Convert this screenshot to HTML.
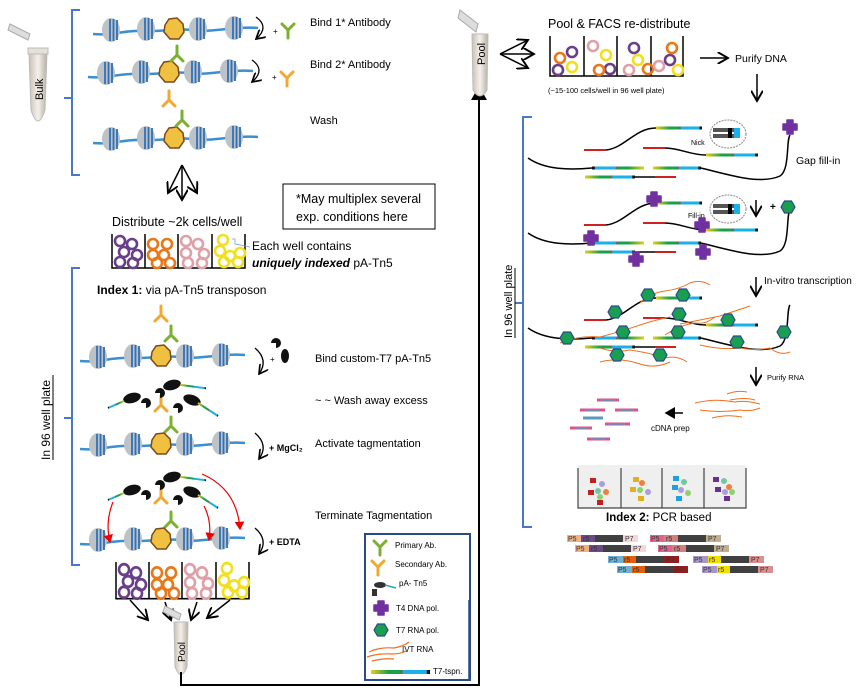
<!DOCTYPE html>
<html><head><meta charset="utf-8"><style>
html,body{margin:0;padding:0;background:#fff;}
svg{display:block;font-family:"Liberation Sans",sans-serif;}
</style></head><body>
<svg width="868" height="693" viewBox="0 0 868 693" xmlns="http://www.w3.org/2000/svg">
<defs>
<linearGradient id="t7" x1="0" x2="1" y1="0" y2="0">
<stop offset="0" stop-color="#e8cf1a"/><stop offset="0.3" stop-color="#1aa048"/><stop offset="0.5" stop-color="#1aa048"/><stop offset="0.52" stop-color="#d03030"/><stop offset="0.55" stop-color="#1ab0e8"/><stop offset="0.94" stop-color="#1ab0e8"/><stop offset="0.95" stop-color="#111"/><stop offset="1" stop-color="#111"/>
</linearGradient>
<linearGradient id="t7r" x1="1" x2="0" y1="0" y2="0">
<stop offset="0" stop-color="#e8cf1a"/><stop offset="0.3" stop-color="#1aa048"/><stop offset="0.5" stop-color="#1aa048"/><stop offset="0.52" stop-color="#d03030"/><stop offset="0.55" stop-color="#1ab0e8"/><stop offset="0.94" stop-color="#1ab0e8"/><stop offset="0.95" stop-color="#111"/><stop offset="1" stop-color="#111"/>
</linearGradient>
<linearGradient id="tube" x1="0" x2="1"><stop offset="0" stop-color="#c9c0b5"/><stop offset="0.5" stop-color="#f4f0ea"/><stop offset="1" stop-color="#b8aea2"/></linearGradient>
<g id="nuc"><ellipse cx="0" cy="0" rx="9" ry="12" fill="#bcc2c6"/><path d="M-1,-11V11M2.5,-11V11M6,-10V10" stroke="#2f70b8" stroke-width="1.8"/></g>
<g id="blob"><path d="M-9,-4 L-5,-10 L3,-11 L9,-5 L10,3 L5,10 L-4,10 L-10,3Z" fill="#f0c040" stroke="#7a4a1a" stroke-width="1.5"/></g>
<g id="dna"><path d="M0,6 C20,8 30,2 50,3 C70,4 80,0 100,2 C120,5 140,-2 165,0" fill="none" stroke="#3a8fd0" stroke-width="2.5"/>
<use href="#nuc" x="18" y="2"/><use href="#nuc" x="53" y="1"/><use href="#blob" x="81" y="1"/><use href="#nuc" x="105" y="1"/><use href="#nuc" x="141" y="0"/></g>
<g id="abg"><path d="M0,-16V-7M0,-7L-6,-1M0,-7L6,-1" stroke="#7cb030" stroke-width="3" fill="none" stroke-linecap="round"/></g>
<g id="abo"><path d="M0,-16V-7M0,-7L-6,-1M0,-7L6,-1" stroke="#f0a830" stroke-width="3" fill="none" stroke-linecap="round"/></g>
<g id="abgL"><path d="M0,0V-8M0,-8L-6,-14M0,-8L6,-14" stroke="#7cb030" stroke-width="3" fill="none" stroke-linecap="round"/></g>
<g id="aboL"><path d="M0,0V-8M0,-8L-6,-14M0,-8L6,-14" stroke="#f0a830" stroke-width="3" fill="none" stroke-linecap="round"/></g>
<g id="tn5"><ellipse cx="0" cy="0" rx="9" ry="5" fill="#111"/><line x1="8" y1="2" x2="32" y2="12" stroke="url(#t7)" stroke-width="2"/></g>
<g id="pac"><path d="M0,0 m-5,0 a5,5 0 1 1 5,5 l0,-5z" fill="#111"/></g>
<g id="ring"><circle r="5" fill="none" stroke-width="2.6"/></g>
<g id="hex"><polygon points="-7,0 -3.5,-6 3.5,-6 7,0 3.5,6 -3.5,6" fill="#18a050" stroke="#2a4a8a" stroke-width="1.2"/></g>
<g id="t4"><path d="M-3,-7h6v4h4v6h-4v4h-6v-4h-4v-6h4z" fill="#7030a0" stroke="#7030a0" stroke-linejoin="round" stroke-width="1.5"/></g>
<marker id="ah" markerWidth="8" markerHeight="8" refX="7" refY="4" orient="auto"><path d="M0,0L7,4L0,8" fill="none" stroke="#000" stroke-width="1.3"/></marker>
<marker id="ahr" markerWidth="8" markerHeight="8" refX="6" refY="4" orient="auto"><path d="M0,0L7,4L0,8z" fill="#e00"/></marker>
<marker id="ahf" markerWidth="8" markerHeight="8" refX="6" refY="4" orient="auto"><path d="M0,0L7,4L0,8z" fill="#000"/></marker>
</defs>

<!-- Bulk tube -->
<g transform="translate(38,40)">
<path d="M-10,0 L-30,-10 L-28,-16 L-8,-6 Z" fill="#ddd" stroke="#aaa"/>
<path d="M-9,12 L9,12 L7,70 Q0,92 -7,70 Z" fill="url(#tube)" stroke="#bbb"/>
<rect x="-10" y="8" width="20" height="6" fill="#e5e0d8" stroke="#bbb"/>
<text transform="translate(5,60) rotate(-90)" font-size="11">Bulk</text>
</g>
<path d="M80,10 H72 V175 H80 M72,98 H64" fill="none" stroke="#4a78c8" stroke-width="2"/>
<use href="#dna" x="93" y="28"/>
<use href="#dna" x="88" y="71"/><use href="#abg" x="177" y="62"/>
<use href="#dna" x="93" y="137"/><use href="#abg" x="182" y="127"/><use href="#abo" x="169" y="107"/>
<path d="M256,17 q14,10 0,22" fill="none" stroke="#000" stroke-width="1.3" marker-end="url(#ah)"/>
<text x="273" y="34" font-size="8">+</text><use href="#abgL" x="288" y="38"/>
<path d="M252,60 q14,10 0,22" fill="none" stroke="#000" stroke-width="1.3" marker-end="url(#ah)"/>
<text x="272" y="80" font-size="8">+</text><use href="#aboL" x="287" y="86"/>
<text x="310" y="26" font-size="11">Bind 1* Antibody</text>
<text x="310" y="68" font-size="11">Bind 2* Antibody</text>
<text x="310" y="124" font-size="11">Wash</text>
<line x1="182" y1="165" x2="168" y2="193" stroke="#000" stroke-width="1.5" marker-end="url(#ah)"/>
<line x1="182" y1="165" x2="182" y2="200" stroke="#000" stroke-width="1.5" marker-end="url(#ah)"/>
<line x1="182" y1="165" x2="197" y2="193" stroke="#000" stroke-width="1.5" marker-end="url(#ah)"/>
<rect x="283" y="184" width="152" height="45" fill="#fff" stroke="#000"/>
<text x="296" y="203" font-size="12.5">*May multiplex several</text>
<text x="296" y="221" font-size="12.5">exp. conditions here</text>
<text x="112" y="226" font-size="12.5">Distribute ~2k cells/well</text>
<g transform="translate(112,234)">
<path d="M0,0V34H133V0M33,0V34M66,0V34M100,0V34" fill="none" stroke="#000" stroke-width="1.5"/>
<g stroke="#6a3f8a"><use href="#ring" x="8" y="7"/><use href="#ring" x="20" y="10"/><use href="#ring" x="12" y="18"/><use href="#ring" x="25" y="21"/><use href="#ring" x="8" y="28"/><use href="#ring" x="21" y="29"/></g>
<g stroke="#e87818"><use href="#ring" x="41" y="10"/><use href="#ring" x="55" y="10"/><use href="#ring" x="41" y="21"/><use href="#ring" x="52" y="21"/><use href="#ring" x="45" y="29"/><use href="#ring" x="58" y="29"/></g>
<g stroke="#e0a0a8"><use href="#ring" x="74" y="7"/><use href="#ring" x="86" y="10"/><use href="#ring" x="74" y="19"/><use href="#ring" x="92" y="20"/><use href="#ring" x="76" y="29"/><use href="#ring" x="90" y="29"/></g>
<g stroke="#f0e020"><use href="#ring" x="111" y="6"/><use href="#ring" x="108" y="17"/><use href="#ring" x="118" y="22"/><use href="#ring" x="128" y="19"/><use href="#ring" x="112" y="28"/><use href="#ring" x="126" y="28"/></g>
</g>
<path d="M232,239 H235 V244 L250,247" fill="none" stroke="#7aa0d0" stroke-width="0.8"/>
<text x="252" y="250" font-size="12">Each well contains</text>
<text x="252" y="267" font-size="12"><tspan font-weight="bold" font-style="italic">uniquely indexed</tspan> pA-Tn5</text>
<path d="M80,268 H72 V565 H80 M72,418 H64" fill="none" stroke="#4a78c8" stroke-width="2"/>
<text transform="translate(50,460) rotate(-90)" font-size="12">In 96 well plate</text>
<line x1="53" y1="375" x2="53" y2="460" stroke="#000"/>
<text x="97" y="294" font-size="12"><tspan font-weight="bold">Index 1:</tspan>  via pA-Tn5 transposon</text>
<use href="#abo" x="161" y="322"/><use href="#abg" x="171" y="342"/>
<use href="#dna" x="80" y="355"/>
<path d="M255,348 q14,12 4,26" fill="none" stroke="#000" stroke-width="1.3" marker-end="url(#ah)"/>
<text x="270" y="362" font-size="8">+</text>
<use href="#pac" x="276" y="343"/><ellipse cx="285" cy="356" rx="4" ry="7" fill="#111"/><line x1="283" y1="362" x2="283" y2="378" stroke="url(#t7)" stroke-width="2"/>
<text x="315" y="362" font-size="11">Bind custom-T7 pA-Tn5</text>
<g id="tnc">
<use href="#abo" x="161" y="412"/>
<use href="#tn5" x="172" y="385" transform="rotate(-15 172 385)"/><use href="#pac" x="160" y="393"/>
<ellipse cx="132" cy="398" rx="9" ry="5" fill="#111" transform="rotate(-15 132 398)"/><line x1="124" y1="401" x2="108" y2="408" stroke="url(#t7r)" stroke-width="2"/><use href="#pac" x="146" y="403"/>
<ellipse cx="192" cy="400" rx="9" ry="5" fill="#111" transform="rotate(20 192 400)"/><line x1="198" y1="403" x2="218" y2="416" stroke="url(#t7)" stroke-width="2"/><use href="#pac" x="178" y="408"/>
</g>
<use href="#abg" x="171" y="433"/>
<use href="#dna" x="80" y="443"/>
<text x="315" y="404" font-size="11">~ ~ Wash away excess</text>
<path d="M255,433 q14,12 4,26" fill="none" stroke="#000" stroke-width="1.3" marker-end="url(#ah)"/>
<text x="269" y="451" font-size="9" font-weight="bold">+ MgCl₂</text>
<text x="315" y="447" font-size="11">Activate tagmentation</text>
<use href="#tnc" x="0" y="92"/>
<use href="#abg" x="171" y="528"/>
<use href="#dna" x="80" y="538"/>
<path d="M113,502 q-8,20 -3,40" fill="none" stroke="#e00" stroke-width="1.2" marker-end="url(#ahr)"/>
<path d="M204,506 q8,15 5,34" fill="none" stroke="#e00" stroke-width="1.2" marker-end="url(#ahr)"/>
<path d="M202,474 q35,15 38,55" fill="none" stroke="#e00" stroke-width="1.2" marker-end="url(#ahr)"/>
<path d="M255,528 q14,12 4,26" fill="none" stroke="#000" stroke-width="1.3" marker-end="url(#ah)"/>
<text x="269" y="545" font-size="9" font-weight="bold">+ EDTA</text>
<text x="315" y="519" font-size="11">Terminate Tagmentation</text>
<g transform="translate(116,562) scale(1,1.08)">
<path d="M0,0V34H133V0M33,0V34M66,0V34M100,0V34" fill="none" stroke="#000" stroke-width="1.5"/>
<g stroke="#6a3f8a"><use href="#ring" x="8" y="7"/><use href="#ring" x="20" y="10"/><use href="#ring" x="12" y="18"/><use href="#ring" x="25" y="21"/><use href="#ring" x="8" y="28"/><use href="#ring" x="21" y="29"/></g>
<g stroke="#e87818"><use href="#ring" x="41" y="10"/><use href="#ring" x="55" y="10"/><use href="#ring" x="41" y="21"/><use href="#ring" x="52" y="21"/><use href="#ring" x="45" y="29"/><use href="#ring" x="58" y="29"/></g>
<g stroke="#e0a0a8"><use href="#ring" x="74" y="7"/><use href="#ring" x="86" y="10"/><use href="#ring" x="74" y="19"/><use href="#ring" x="92" y="20"/><use href="#ring" x="76" y="29"/><use href="#ring" x="90" y="29"/></g>
<g stroke="#f0e020"><use href="#ring" x="111" y="6"/><use href="#ring" x="108" y="17"/><use href="#ring" x="118" y="22"/><use href="#ring" x="128" y="19"/><use href="#ring" x="112" y="28"/><use href="#ring" x="126" y="28"/></g>
</g>
<line x1="130" y1="600" x2="148" y2="620" stroke="#000" stroke-width="1.5" marker-end="url(#ah)"/>
<line x1="165" y1="602" x2="171" y2="620" stroke="#000" stroke-width="1.5" marker-end="url(#ah)"/>
<line x1="197" y1="602" x2="191" y2="620" stroke="#000" stroke-width="1.5" marker-end="url(#ah)"/>
<line x1="230" y1="600" x2="207" y2="618" stroke="#000" stroke-width="1.5" marker-end="url(#ah)"/>
<g transform="translate(181,612)">
<path d="M-2,8 L-18,0 L-16,-6 L0,2 Z" fill="#ddd" stroke="#aaa"/>
<path d="M-7,10 L7,10 L6,55 Q0,70 -6,55 Z" fill="url(#tube)" stroke="#bbb"/>
<text transform="translate(4,50) rotate(-90)" font-size="10">Pool</text>
</g>
<path d="M181,672 V685 H479 V88" fill="none" stroke="#000" stroke-width="2" marker-end="url(#ahf)"/>
<rect x="365" y="534" width="105" height="146" fill="#fff" stroke="#2a4a8a" stroke-width="2"/>
<line x1="469" y1="600" x2="469" y2="680" stroke="#2a4a8a" stroke-width="1.5"/>
<use href="#abgL" x="380" y="555"/><text x="395" y="548" font-size="8">Primary Ab.</text>
<use href="#aboL" x="378" y="575"/><text x="395" y="567" font-size="8">Secondary Ab.</text>
<ellipse cx="380" cy="585" rx="6" ry="3" fill="#333"/><line x1="385" y1="585" x2="396" y2="588" stroke="#2ab" stroke-width="1.5"/><rect x="372" y="589" width="5" height="7" fill="#333"/>
<text x="399" y="586" font-size="8">pA- Tn5</text>
<use href="#t4" x="381" y="608"/><text x="396" y="611" font-size="8">T4 DNA pol.</text>
<use href="#hex" x="381" y="630"/><text x="396" y="633" font-size="8">T7 RNA pol.</text>
<path d="M369,652 q10,-5 25,-4 q10,-2 15,-6 M367,657 q12,-4 25,-3 q8,0 14,-3 M372,661 q12,-3 22,-2" fill="none" stroke="#f07020" stroke-width="1.2"/>
<text x="402" y="652" font-size="8">IVT RNA</text>
<rect x="371" y="670" width="59" height="4" fill="url(#t7)"/>
<text x="433" y="674" font-size="8">T7-tspn.</text>

<g transform="translate(480,20)">
<path d="M-4,12 L-22,-2 L-20,-10 L-2,4 Z" fill="#ddd" stroke="#aaa"/>
<path d="M-8,14 L8,14 L7,70 Q0,82 -7,70 Z" fill="url(#tube)" stroke="#bbb"/>
<text transform="translate(5,45) rotate(-90)" font-size="11">Pool</text>
</g>
<line x1="500" y1="54" x2="528" y2="40" stroke="#000" stroke-width="1.5" marker-end="url(#ah)"/>
<line x1="500" y1="54" x2="534" y2="54" stroke="#000" stroke-width="1.5" marker-end="url(#ah)"/>
<line x1="500" y1="54" x2="528" y2="68" stroke="#000" stroke-width="1.5" marker-end="url(#ah)"/>
<text x="548" y="28" font-size="12.5">Pool &amp; FACS re-distribute</text>
<g transform="translate(550,36)">
<path d="M0,0V40H133V0M34,0V40M67,0V40M101,0V40" fill="none" stroke="#000" stroke-width="1.5"/>
<g stroke="#6a3f8a"><use href="#ring" x="22" y="16"/><use href="#ring" x="8" y="34"/><use href="#ring" x="60" y="33"/><use href="#ring" x="84" y="12"/><use href="#ring" x="120" y="24"/></g>
<g stroke="#e87818"><use href="#ring" x="10" y="22"/><use href="#ring" x="49" y="34"/><use href="#ring" x="98" y="33"/><use href="#ring" x="122" y="12"/></g>
<g stroke="#f0e020"><use href="#ring" x="22" y="31"/><use href="#ring" x="56" y="19"/><use href="#ring" x="88" y="24"/><use href="#ring" x="128" y="34"/></g>
<g stroke="#e0a0a8"><use href="#ring" x="43" y="10"/><use href="#ring" x="79" y="34"/><use href="#ring" x="109" y="30"/></g>
</g>
<text x="548" y="93" font-size="7.5">(~15-100 cells/well in 96 well plate)</text>
<path d="M700,58 H728" stroke="#000" stroke-width="1.5" marker-end="url(#ah)"/>
<text x="735" y="62" font-size="10.5">Purify DNA</text>
<path d="M757,74 V101" stroke="#000" stroke-width="1.5" marker-end="url(#ah)"/>
<path d="M532,117 H523 V527 H532 M523,303 H515" fill="none" stroke="#4a78c8" stroke-width="2"/>
<text transform="translate(512,338) rotate(-90)" font-size="11">In 96 well plate</text>
<line x1="515" y1="268" x2="515" y2="338" stroke="#000"/>

<g id="frag">
<path d="M528,158 C545,170 570,170 592,168" fill="none" stroke="#000" stroke-width="1.5"/>
<rect x="592" y="166.5" width="52" height="3" fill="url(#t7r)"/>
<rect x="653" y="166.5" width="48" height="3" fill="url(#t7)"/>
<path d="M701,168 C730,175 760,185 780,176 C790,170 786,140 790,135" fill="none" stroke="#000" stroke-width="1.5"/>
<rect x="585" y="175.5" width="50" height="3" fill="url(#t7)"/>
<path d="M635,177 H655" stroke="#000" stroke-width="1.5"/><path d="M655,177 H676" stroke="#d02020" stroke-width="2"/>
<path d="M584,150 H606" stroke="#d02020" stroke-width="2"/>
<path d="M606,150 C625,148 635,128 656,128" fill="none" stroke="#000" stroke-width="1.5"/>
<rect x="656" y="126.5" width="46" height="3" fill="url(#t7)"/>
<path d="M643,148 H665" stroke="#d02020" stroke-width="2"/>
<path d="M665,148 C680,148 690,155 706,155" fill="none" stroke="#000" stroke-width="1.5"/>
<rect x="706" y="153.5" width="52" height="3" fill="url(#t7)"/>
</g>
<ellipse cx="728" cy="134" rx="18" ry="14" fill="#fff" stroke="#888" stroke-dasharray="2,1"/>
<rect x="713" y="128" width="26" height="4" fill="#555"/><rect x="713" y="134" width="26" height="4" fill="#555"/><rect x="728" y="128" width="4" height="10" fill="#000"/><rect x="734" y="128" width="6" height="10" fill="#1ab0e8"/>
<text x="691" y="145" font-size="7">Nick</text>
<use href="#t4" x="790" y="127"/>
<text x="796" y="164" font-size="10.5">Gap fill-in</text>
<use href="#frag" x="0" y="75"/>
<ellipse cx="728" cy="209" rx="18" ry="14" fill="#fff" stroke="#888" stroke-dasharray="2,1"/>
<rect x="713" y="204" width="26" height="4" fill="#555"/><rect x="713" y="210" width="26" height="4" fill="#555"/><rect x="728" y="204" width="4" height="10" fill="#000"/><rect x="734" y="204" width="6" height="10" fill="#1ab0e8"/>
<text x="688" y="218" font-size="7">Fill-in</text>
<use href="#t4" x="654" y="199"/><use href="#t4" x="702" y="225"/><use href="#t4" x="591" y="238"/><use href="#t4" x="703" y="252"/><use href="#t4" x="636" y="259"/>
<path d="M756,200 V216" stroke="#000" stroke-width="1.5" marker-end="url(#ah)"/>
<text x="770" y="210" font-size="10" font-weight="bold">+</text><use href="#hex" x="788" y="207"/>
<path d="M756,277 V296" stroke="#000" stroke-width="1.5" marker-end="url(#ah)"/>
<text x="764" y="284" font-size="10">In-vitro transcription</text>
<g transform="translate(0,170)"><use href="#frag" x="0" y="0"/></g>
<g fill="none" stroke="#f07020" stroke-width="1">
<path d="M640,303 q10,-10 25,-12 q15,-2 25,-8 q10,-4 20,2"/>
<path d="M560,343 q20,-8 40,-6 q20,-5 40,-12 q15,-5 30,-8"/>
<path d="M600,348 q15,5 30,2 q20,3 35,8 q12,-3 22,4"/>
<path d="M680,324 q20,-4 40,-8 q15,-5 30,-10"/>
<path d="M700,345 q20,5 40,3 q15,3 30,0 q10,8 20,4"/>
<path d="M600,362 q20,-5 40,2 q15,5 30,-2"/>
<path d="M665,335 q15,-10 30,-12 q10,2 20,-6"/>
</g>
<use href="#hex" x="648" y="295"/><use href="#hex" x="683" y="295"/><use href="#hex" x="615" y="312"/><use href="#hex" x="623" y="332"/>
<use href="#hex" x="567" y="338"/><use href="#hex" x="679" y="314"/><use href="#hex" x="678" y="332"/><use href="#hex" x="728" y="320"/>
<use href="#hex" x="737" y="342"/><use href="#hex" x="784" y="332"/><use href="#hex" x="617" y="355"/><use href="#hex" x="660" y="355"/>
<path d="M756,367 V385" stroke="#000" stroke-width="1.5" marker-end="url(#ah)"/>
<text x="767" y="380" font-size="7.5">Purify RNA</text>
<g fill="none" stroke="#f07020" stroke-width="1">
<path d="M727,394 q10,-4 20,-2 M730,400 q15,-3 25,0 M695,403 q20,-5 40,-1 q10,-2 25,2 M700,410 q20,3 40,0 q10,2 20,-2 M712,418 q15,-4 30,-1"/>
</g>
<g stroke-width="3">
<line x1="597" y1="400" x2="619" y2="400" stroke="#e0508a"/><line x1="601" y1="400" x2="615" y2="400" stroke="#5a9ac0" stroke-width="1.5"/>
<line x1="580" y1="410" x2="605" y2="410" stroke="#e0508a"/><line x1="585" y1="410" x2="600" y2="410" stroke="#5a9ac0" stroke-width="1.5"/>
<line x1="615" y1="410" x2="638" y2="410" stroke="#e0508a"/><line x1="619" y1="410" x2="634" y2="410" stroke="#5a9ac0" stroke-width="1.5"/>
<line x1="583" y1="418" x2="603" y2="418" stroke="#5a9ac0"/>
<line x1="605" y1="424" x2="630" y2="424" stroke="#e0508a"/><line x1="609" y1="424" x2="626" y2="424" stroke="#5a9ac0" stroke-width="1.5"/>
<line x1="570" y1="428" x2="592" y2="428" stroke="#e0508a"/><line x1="575" y1="428" x2="588" y2="428" stroke="#5a9ac0" stroke-width="1.5"/>
<line x1="587" y1="439" x2="610" y2="439" stroke="#e0508a"/><line x1="591" y1="439" x2="606" y2="439" stroke="#5a9ac0" stroke-width="1.5"/>
</g>
<path d="M683,413 H666" stroke="#000" stroke-width="1.5" marker-end="url(#ahf)"/>
<text x="651" y="431" font-size="8">cDNA prep</text>
<rect x="578" y="465" width="168" height="43" fill="#efefef"/>
<path d="M578,468V508H746V468M621,468V508M662,468V508M704,468V508" fill="none" stroke="#444" stroke-width="1.2"/>
<g><rect x="590" y="478" width="6" height="5" fill="#c02020"/><rect x="588" y="490" width="6" height="5" fill="#c02020"/><rect x="597" y="500" width="6" height="5" fill="#c02020"/><circle cx="602" cy="484" r="3" fill="#a8a0d8"/><circle cx="598" cy="491" r="3" fill="#70c8a0"/><circle cx="606" cy="492" r="3" fill="#f08040"/><circle cx="600" cy="497" r="3" fill="#90d070"/></g>
<g><rect x="633" y="477" width="6" height="5" fill="#e0b020"/><rect x="630" y="487" width="6" height="5" fill="#e0b020"/><rect x="638" y="496" width="6" height="5" fill="#e0b020"/><circle cx="642" cy="483" r="3" fill="#f08040"/><circle cx="640" cy="490" r="3" fill="#90d070"/><circle cx="648" cy="492" r="3" fill="#a8a0d8"/></g>
<g><rect x="673" y="476" width="6" height="5" fill="#20a0e0"/><rect x="672" y="485" width="6" height="5" fill="#20a0e0"/><rect x="676" y="496" width="6" height="5" fill="#20a0e0"/><circle cx="684" cy="482" r="3" fill="#70c8a0"/><circle cx="681" cy="490" r="3" fill="#a8a0d8"/><circle cx="688" cy="493" r="3" fill="#90d070"/></g>
<g><rect x="713" y="477" width="6" height="5" fill="#6a3090"/><rect x="715" y="487" width="6" height="5" fill="#6a3090"/><rect x="724" y="496" width="6" height="5" fill="#6a3090"/><circle cx="724" cy="481" r="3" fill="#70c8a0"/><circle cx="729" cy="487" r="3" fill="#f08040"/><circle cx="725" cy="492" r="3" fill="#a8a0d8"/><circle cx="732" cy="492" r="3" fill="#90d070"/></g>
<text x="606" y="521" font-size="11.5"><tspan font-weight="bold">Index 2:</tspan> PCR based</text>
<g font-size="7" fill="#333">
<g transform="translate(567,535)"><rect width="14" height="7" fill="#f0b080"/><rect x="14" width="14" height="7" fill="#6a4a8a"/><rect x="28" width="28" height="7" fill="#404040"/><rect x="56" width="15" height="7" fill="#f4d8d8"/><text x="1" y="6">P5</text><text x="16" y="6">r5</text><text x="58" y="6">P7</text></g>
<g transform="translate(650,535)"><rect width="14" height="7" fill="#e86090"/><rect x="14" width="14" height="7" fill="#d08080"/><rect x="28" width="28" height="7" fill="#404040"/><rect x="56" width="15" height="7" fill="#c0b090"/><text x="1" y="6">P5</text><text x="16" y="6">r5</text><text x="58" y="6">P7</text></g>
<g transform="translate(575,545)"><rect width="14" height="7" fill="#f0b080"/><rect x="14" width="14" height="7" fill="#6a4a8a"/><rect x="28" width="28" height="7" fill="#404040"/><rect x="56" width="15" height="7" fill="#f4d8d8"/><text x="1" y="6">P5</text><text x="16" y="6">r5</text><text x="58" y="6">P7</text></g>
<g transform="translate(658,545)"><rect width="14" height="7" fill="#e86090"/><rect x="14" width="14" height="7" fill="#d08080"/><rect x="28" width="28" height="7" fill="#404040"/><rect x="56" width="15" height="7" fill="#c0b090"/><text x="1" y="6">P5</text><text x="16" y="6">r5</text><text x="58" y="6">P7</text></g>
<g transform="translate(608,556)"><rect width="15" height="7" fill="#70b0d0"/><rect x="15" width="13" height="7" fill="#e06010"/><rect x="28" width="28" height="7" fill="#404040"/><rect x="56" width="15" height="7" fill="#902020"/><text x="1" y="6">P5</text><text x="16" y="6">r5</text><text x="58" y="6">P7</text></g>
<g transform="translate(693,556)"><rect width="15" height="7" fill="#a898c8"/><rect x="15" width="13" height="7" fill="#f0e000"/><rect x="28" width="28" height="7" fill="#404040"/><rect x="56" width="15" height="7" fill="#d89090"/><text x="1" y="6">P5</text><text x="16" y="6">r5</text><text x="58" y="6">P7</text></g>
<g transform="translate(617,566)"><rect width="15" height="7" fill="#70b0d0"/><rect x="15" width="13" height="7" fill="#e06010"/><rect x="28" width="28" height="7" fill="#404040"/><rect x="56" width="15" height="7" fill="#902020"/><text x="1" y="6">P5</text><text x="16" y="6">r5</text><text x="58" y="6">P7</text></g>
<g transform="translate(702,566)"><rect width="15" height="7" fill="#a898c8"/><rect x="15" width="13" height="7" fill="#f0e000"/><rect x="28" width="28" height="7" fill="#404040"/><rect x="56" width="15" height="7" fill="#d89090"/><text x="1" y="6">P5</text><text x="16" y="6">r5</text><text x="58" y="6">P7</text></g>
</g>
</svg>
</body></html>
